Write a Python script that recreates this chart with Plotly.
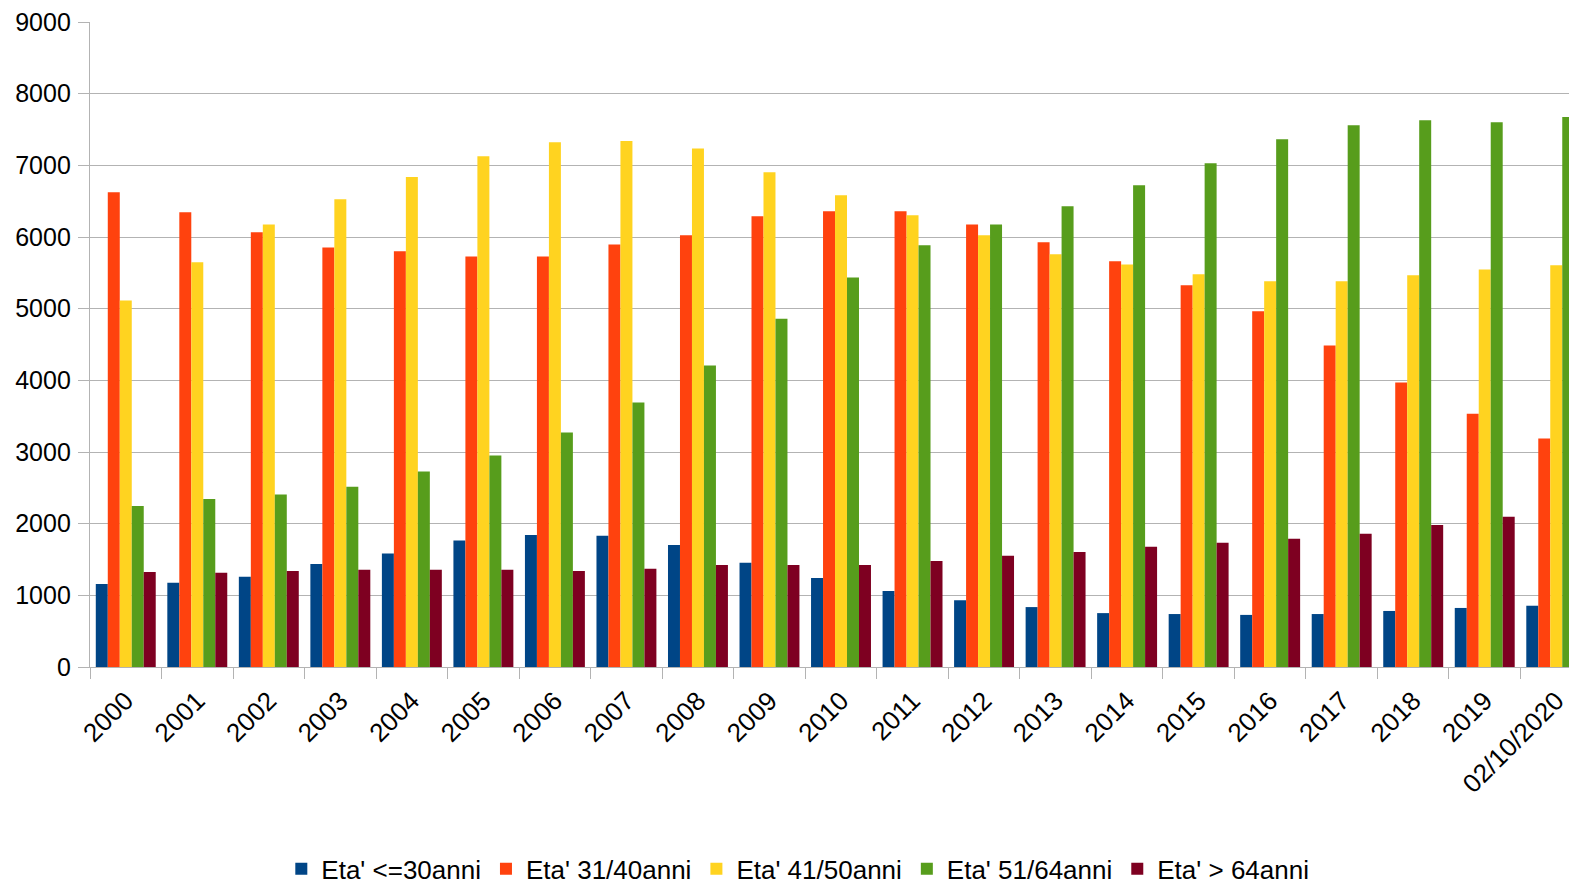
import plotly.graph_objects as go

categories = ["2000", "2001", "2002", "2003", "2004", "2005", "2006", "2007", "2008", "2009",
              "2010", "2011", "2012", "2013", "2014", "2015", "2016", "2017", "2018", "2019",
              "02/10/2020"]

eta_30 = [1158, 1176, 1261, 1436, 1582, 1764, 1842, 1830, 1703, 1455,
          1242, 1061, 933, 836, 752, 739, 727, 739, 782, 824, 855]
eta_31_40 = [6624, 6345, 6067, 5855, 5800, 5727, 5727, 5897, 6024, 6291,
             6358, 6358, 6176, 5927, 5661, 5327, 4964, 4485, 3970, 3533, 3188]
eta_41_50 = [5115, 5648, 6176, 6527, 6836, 7127, 7321, 7339, 7236, 6903,
             6582, 6303, 6024, 5758, 5618, 5479, 5382, 5382, 5467, 5545, 5606]
eta_51_64 = [2248, 2345, 2406, 2515, 2727, 2952, 3273, 3691, 4206, 4861,
             5436, 5885, 6176, 6430, 6721, 7030, 7364, 7558, 7630, 7600, 7673]
eta_64 = [1327, 1315, 1339, 1358, 1358, 1358, 1339, 1370, 1424, 1424,
          1424, 1479, 1552, 1606, 1679, 1733, 1788, 1861, 1982, 2097, 2345]

series = [
    ("Eta' <=30anni", eta_30, "#004586"),
    ("Eta' 31/40anni", eta_31_40, "#ff420e"),
    ("Eta' 41/50anni", eta_41_50, "#ffd320"),
    ("Eta' 51/64anni", eta_51_64, "#579d1c"),
    ("Eta' > 64anni", eta_64, "#7e0021"),
]

fig = go.Figure()
for name, vals, color in series:
    fig.add_trace(go.Bar(x=categories, y=vals, name=name,
                         marker=dict(color=color, line=dict(width=0))))

font_family = "Liberation Sans, Arial, sans-serif"

fig.update_layout(
    width=1569, height=878,
    margin=dict(l=82, r=0, t=14, b=219, autoexpand=False),
    paper_bgcolor="white", plot_bgcolor="white",
    barmode="group", bargap=0.162, bargroupgap=0,
    font=dict(family=font_family, size=25, color="#000000"),
    showlegend=True,
    legend=dict(orientation="h", x=0.476, xanchor="center", y=-0.313, yanchor="middle",
                font=dict(size=26, color="#000000"), itemwidth=30,
                traceorder="normal", bgcolor="rgba(0,0,0,0)"),
    xaxis=dict(
        type="category", range=[-0.5, 20.29], autorange=False,
        tickangle=-45, tickson="boundaries", ticks="outside", ticklen=11,
        tickcolor="#b3b3b3", tickwidth=1.3,
        showline=True, linecolor="#b3b3b3", linewidth=1.3,
        showgrid=False, automargin=False, ticklabelstandoff=7,
        ticklabeloverflow="allow",
        tickfont=dict(size=26, color="#000000"),
    ),
    yaxis=dict(
        range=[0, 9000], autorange=False, dtick=1000,
        ticks="outside", ticklen=11, tickcolor="#b3b3b3", tickwidth=1.3,
        showline=True, linecolor="#b3b3b3", linewidth=1.3,
        showgrid=True, gridcolor="#b3b3b3", gridwidth=1.3,
        zeroline=False, automargin=False, ticklabelstandoff=2,
        ticklabeloverflow="allow",
        tickfont=dict(size=25, color="#000000"),
    ),
)

fig.write_html("out.html")
